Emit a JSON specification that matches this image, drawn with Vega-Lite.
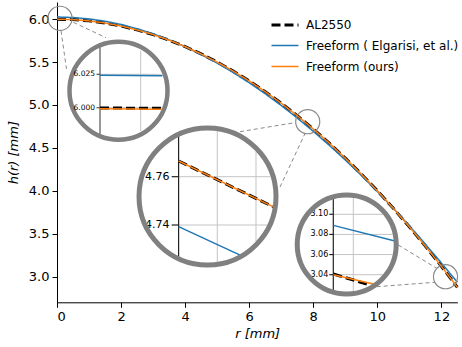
{
"$schema":"https://vega.github.io/schema/vega-lite/v6.json",
"width":400.4,"height":300.3,
"autosize":{"type":"none"},
"padding":{"left":57,"top":2,"right":4.6,"bottom":44.7},
"background":"white",
"config":{
 "font":"DejaVu Sans",
 "view":{"stroke":null},
 "axis":{"grid":false,"domainColor":"#000","domainWidth":1,"tickColor":"#000","tickWidth":1,"tickSize":5,"labelColor":"#000","labelFontSize":13,"labelPadding":3,"titleColor":"#000","titleFontSize":13,"titleFontWeight":"normal","titleFontStyle":"italic"},
 "legend":{"orient":"none","legendX":213,"legendY":8,"symbolType":"stroke","symbolSize":729,"labelFontSize":12,"labelOffset":6,"labelLimit":400,"rowPadding":-6,"padding":0,"labelColor":"#000"}
},
"datasets":{
 "curves":[
  {"s":"AL2550","r":0,"h":6.0},{"s":"AL2550","r":0.5,"h":5.995},{"s":"AL2550","r":1,"h":5.98},{"s":"AL2550","r":1.5,"h":5.955},{"s":"AL2550","r":2,"h":5.92},{"s":"AL2550","r":2.5,"h":5.875},{"s":"AL2550","r":3,"h":5.82},{"s":"AL2550","r":3.5,"h":5.755},{"s":"AL2550","r":4,"h":5.68},{"s":"AL2550","r":4.5,"h":5.595},{"s":"AL2550","r":5,"h":5.5},{"s":"AL2550","r":5.5,"h":5.395},{"s":"AL2550","r":6,"h":5.28},{"s":"AL2550","r":6.5,"h":5.155},{"s":"AL2550","r":7,"h":5.02},{"s":"AL2550","r":7.5,"h":4.875},{"s":"AL2550","r":8,"h":4.72},{"s":"AL2550","r":8.5,"h":4.555},{"s":"AL2550","r":9,"h":4.38},{"s":"AL2550","r":9.5,"h":4.195},{"s":"AL2550","r":10,"h":4.0},{"s":"AL2550","r":10.5,"h":3.795},{"s":"AL2550","r":11,"h":3.58},{"s":"AL2550","r":11.5,"h":3.355},{"s":"AL2550","r":12,"h":3.12},{"s":"AL2550","r":12.5,"h":2.875},
  {"s":"Freeform ( Elgarisi, et al.)","r":0,"h":6.025},{"s":"Freeform ( Elgarisi, et al.)","r":0.5,"h":6.019},{"s":"Freeform ( Elgarisi, et al.)","r":1,"h":6.003},{"s":"Freeform ( Elgarisi, et al.)","r":1.5,"h":5.976},{"s":"Freeform ( Elgarisi, et al.)","r":2,"h":5.938},{"s":"Freeform ( Elgarisi, et al.)","r":2.5,"h":5.889},{"s":"Freeform ( Elgarisi, et al.)","r":3,"h":5.829},{"s":"Freeform ( Elgarisi, et al.)","r":3.5,"h":5.759},{"s":"Freeform ( Elgarisi, et al.)","r":4,"h":5.678},{"s":"Freeform ( Elgarisi, et al.)","r":4.5,"h":5.588},{"s":"Freeform ( Elgarisi, et al.)","r":5,"h":5.488},{"s":"Freeform ( Elgarisi, et al.)","r":5.5,"h":5.378},{"s":"Freeform ( Elgarisi, et al.)","r":6,"h":5.259},{"s":"Freeform ( Elgarisi, et al.)","r":6.5,"h":5.131},{"s":"Freeform ( Elgarisi, et al.)","r":7,"h":4.994},{"s":"Freeform ( Elgarisi, et al.)","r":7.5,"h":4.848},{"s":"Freeform ( Elgarisi, et al.)","r":8,"h":4.693},{"s":"Freeform ( Elgarisi, et al.)","r":8.5,"h":4.53},{"s":"Freeform ( Elgarisi, et al.)","r":9,"h":4.359},{"s":"Freeform ( Elgarisi, et al.)","r":9.5,"h":4.18},{"s":"Freeform ( Elgarisi, et al.)","r":10,"h":3.992},{"s":"Freeform ( Elgarisi, et al.)","r":10.5,"h":3.795},{"s":"Freeform ( Elgarisi, et al.)","r":11,"h":3.59},{"s":"Freeform ( Elgarisi, et al.)","r":11.5,"h":3.377},{"s":"Freeform ( Elgarisi, et al.)","r":12,"h":3.158},{"s":"Freeform ( Elgarisi, et al.)","r":12.5,"h":2.933},
  {"s":"Freeform (ours)","r":0,"h":6.0},{"s":"Freeform (ours)","r":0.5,"h":5.995},{"s":"Freeform (ours)","r":1,"h":5.98},{"s":"Freeform (ours)","r":1.5,"h":5.955},{"s":"Freeform (ours)","r":2,"h":5.92},{"s":"Freeform (ours)","r":2.5,"h":5.875},{"s":"Freeform (ours)","r":3,"h":5.82},{"s":"Freeform (ours)","r":3.5,"h":5.755},{"s":"Freeform (ours)","r":4,"h":5.68},{"s":"Freeform (ours)","r":4.5,"h":5.595},{"s":"Freeform (ours)","r":5,"h":5.5},{"s":"Freeform (ours)","r":5.5,"h":5.395},{"s":"Freeform (ours)","r":6,"h":5.28},{"s":"Freeform (ours)","r":6.5,"h":5.155},{"s":"Freeform (ours)","r":7,"h":5.02},{"s":"Freeform (ours)","r":7.5,"h":4.875},{"s":"Freeform (ours)","r":8,"h":4.72},{"s":"Freeform (ours)","r":8.5,"h":4.555},{"s":"Freeform (ours)","r":9,"h":4.38},{"s":"Freeform (ours)","r":9.5,"h":4.195},{"s":"Freeform (ours)","r":10,"h":4.0},{"s":"Freeform (ours)","r":10.5,"h":3.795},{"s":"Freeform (ours)","r":11,"h":3.58},{"s":"Freeform (ours)","r":11.5,"h":3.355},{"s":"Freeform (ours)","r":12,"h":3.12},{"s":"Freeform (ours)","r":12.5,"h":2.875}
 ],
 "links":[
  {"x":0.125,"y":5.8655,"x2":0.2966,"y2":5.4191},
  {"x":0.509,"y":5.9634,"x2":1.53,"y2":5.7839},
  {"x":5.713,"y":4.6884,"x2":7.452,"y2":4.7956},
  {"x":6.962,"y":4.0438,"x2":7.743,"y2":4.6674},
  {"x":10.656,"y":3.3678,"x2":11.855,"y2":3.0963},
  {"x":9.981,"y":2.8818,"x2":11.801,"y2":2.9331}
 ],
 "spots":[{"x":0.0937,"y":6.01},{"x":7.827,"y":4.805},{"x":12.129,"y":2.998}],
 "rings":[{"n":1,"x":1.92,"y":5.165},{"n":2,"x":4.699,"y":3.933},{"n":3,"x":9.0447,"y":3.3737}],
 "grid":[
  {"n":1,"x":0,"x2":0.076,"y":6.025,"y2":6.025},{"n":1,"x":0,"x2":0.0753,"y":6.0,"y2":6.0},{"n":1,"x":0.05,"x2":0.05,"y":5.9825,"y2":6.0428},
  {"n":2,"x":7.825,"x2":7.8844,"y":4.76,"y2":4.76},{"n":2,"x":7.825,"x2":7.8822,"y":4.74,"y2":4.74},{"n":2,"x":7.85,"x2":7.85,"y":4.72477,"y2":4.7788},{"n":2,"x":7.875,"x2":7.875,"y":4.7333,"y2":4.7703},
  {"n":3,"x":12.15,"x2":12.1747,"y":3.04,"y2":3.04},{"n":3,"x":12.15,"x2":12.17965,"y":3.06,"y2":3.06},{"n":3,"x":12.15,"x2":12.17965,"y":3.08,"y2":3.08},{"n":3,"x":12.15,"x2":12.1747,"y":3.1,"y2":3.1},{"n":3,"x":12.16,"x2":12.16,"y":3.0238,"y2":3.1162}
 ],
 "frame":[
  {"n":1,"x":0,"x2":0,"y":5.9803,"y2":6.0458},{"n":1,"x":-0.0043,"x2":0,"y":6.025,"y2":6.025},{"n":1,"x":-0.0043,"x2":0,"y":6.0,"y2":6.0},
  {"n":2,"x":7.825,"x2":7.825,"y":4.7263,"y2":4.7773},{"n":2,"x":7.8205,"x2":7.825,"y":4.76,"y2":4.76},{"n":2,"x":7.8205,"x2":7.825,"y":4.74,"y2":4.74},
  {"n":3,"x":12.15,"x2":12.15,"y":3.0233,"y2":3.1152},{"n":3,"x":12.148,"x2":12.15,"y":3.04,"y2":3.04},{"n":3,"x":12.148,"x2":12.15,"y":3.06,"y2":3.06},{"n":3,"x":12.148,"x2":12.15,"y":3.08,"y2":3.08},{"n":3,"x":12.148,"x2":12.15,"y":3.1,"y2":3.1}
 ],
 "labels":[
  {"n":1,"y":6.025,"label":"6.025"},{"n":1,"y":6.0,"label":"6.000"},
  {"n":2,"y":4.76,"label":"4.76"},{"n":2,"y":4.74,"label":"4.74"},
  {"n":3,"y":3.1,"label":"3.10"},{"n":3,"y":3.08,"label":"3.08"},{"n":3,"y":3.06,"label":"3.06"},{"n":3,"y":3.04,"label":"3.04"}
 ],
 "segs":[
  {"n":1,"s":"al","x":0,"x2":0.0753,"y":5.9998,"y2":5.9995},{"n":1,"s":"el","x":0,"x2":0.0767,"y":6.0243,"y2":6.0239},{"n":1,"s":"ou","x":0,"x2":0.0753,"y":5.9992,"y2":5.9989},
  {"n":2,"s":"al","x":7.825,"x2":7.8873,"y":4.7665,"y2":4.7472},{"n":2,"s":"el","x":7.825,"x2":7.8658,"y":4.7393,"y2":4.7272},{"n":2,"s":"ou","x":7.825,"x2":7.8873,"y":4.7665,"y2":4.7472},
  {"n":3,"s":"al","x":12.15,"x2":12.1683,"y":3.0407,"y2":3.0298},{"n":3,"s":"el","x":12.15,"x2":12.18085,"y":3.089,"y2":3.0735},{"n":3,"s":"ou","x":12.15,"x2":12.1705,"y":3.04,"y2":3.0305}
 ]
},
"layer":[
 {"layer":[
  {"data":{"name":"curves"},"mark":{"type":"line","strokeCap":"butt","strokeJoin":"round"},
   "encoding":{
    "x":{"field":"r","type":"quantitative","scale":{"domain":[0,12.5],"nice":false,"zero":false},"axis":{"values":[0,2,4,6,8,10,12],"title":"r [mm]","titlePadding":4}},
    "y":{"field":"h","type":"quantitative","scale":{"domain":[2.7,6.2],"nice":false,"zero":false},"axis":{"values":[3,3.5,4,4.5,5,5.5,6],"format":".1f","title":"h(r) [mm]","titlePadding":8}},
    "color":{"field":"s","type":"nominal","scale":{"domain":["AL2550","Freeform ( Elgarisi, et al.)","Freeform (ours)"],"range":["#000000","#1f77b4","#ff7f0e"]},"legend":{"title":null}},
    "strokeDash":{"field":"s","type":"nominal","scale":{"domain":["AL2550","Freeform ( Elgarisi, et al.)","Freeform (ours)"],"range":[[9,4],[1,0],[1,0]]},"legend":{"title":null}},
    "strokeWidth":{"field":"s","type":"nominal","scale":{"type":"ordinal","domain":["AL2550","Freeform ( Elgarisi, et al.)","Freeform (ours)"],"range":[3,1.5,1.5]},"legend":{"title":null}}
   }},
  {"data":{"name":"links"},"mark":{"type":"rule","color":"#8a8a8a","strokeWidth":1,"strokeDash":[4,3]},
   "encoding":{"x":{"field":"x","type":"quantitative"},"y":{"field":"y","type":"quantitative"},"x2":{"field":"x2"},"y2":{"field":"y2"}}},
  {"data":{"name":"spots"},"mark":{"type":"point","shape":"circle","size":580,"filled":false,"stroke":"#8a8a8a","strokeWidth":1.2,"opacity":1},
   "encoding":{"x":{"field":"x","type":"quantitative"},"y":{"field":"y","type":"quantitative"}}}
 ]},
 {"layer":[
  {"data":{"name":"grid"},"transform":[{"filter":"datum.n==1"}],"mark":{"type":"rule","color":"#c4c4c4","strokeWidth":1},
   "encoding":{"x":{"field":"x","type":"quantitative","scale":{"domain":[-0.05283,0.43907],"nice":false,"zero":false},"axis":null},"y":{"field":"y","type":"quantitative","scale":{"domain":[5.85434,6.07912],"nice":false,"zero":false},"axis":null},"x2":{"field":"x2"},"y2":{"field":"y2"}}},
  {"data":{"name":"frame"},"transform":[{"filter":"datum.n==1"}],"mark":{"type":"rule","color":"#555555","strokeWidth":1.2},
   "encoding":{"x":{"field":"x","type":"quantitative","scale":{"domain":[-0.05283,0.43907],"nice":false,"zero":false},"axis":null},"y":{"field":"y","type":"quantitative","scale":{"domain":[5.85434,6.07912],"nice":false,"zero":false},"axis":null},"x2":{"field":"x2"},"y2":{"field":"y2"}}},
  {"data":{"name":"segs"},"transform":[{"filter":"datum.n==1 && datum.s=='al'"}],"mark":{"type":"rule","color":"#000","strokeWidth":3,"strokeDash":[9,4]},
   "encoding":{"x":{"field":"x","type":"quantitative","scale":{"domain":[-0.05283,0.43907],"nice":false,"zero":false},"axis":null},"y":{"field":"y","type":"quantitative","scale":{"domain":[5.85434,6.07912],"nice":false,"zero":false},"axis":null},"x2":{"field":"x2"},"y2":{"field":"y2"}}},
  {"data":{"name":"segs"},"transform":[{"filter":"datum.n==1 && datum.s=='el'"}],"mark":{"type":"rule","color":"#1f77b4","strokeWidth":1.5},
   "encoding":{"x":{"field":"x","type":"quantitative","scale":{"domain":[-0.05283,0.43907],"nice":false,"zero":false},"axis":null},"y":{"field":"y","type":"quantitative","scale":{"domain":[5.85434,6.07912],"nice":false,"zero":false},"axis":null},"x2":{"field":"x2"},"y2":{"field":"y2"}}},
  {"data":{"name":"segs"},"transform":[{"filter":"datum.n==1 && datum.s=='ou'"}],"mark":{"type":"rule","color":"#ff7f0e","strokeWidth":1.5},
   "encoding":{"x":{"field":"x","type":"quantitative","scale":{"domain":[-0.05283,0.43907],"nice":false,"zero":false},"axis":null},"y":{"field":"y","type":"quantitative","scale":{"domain":[5.85434,6.07912],"nice":false,"zero":false},"axis":null},"x2":{"field":"x2"},"y2":{"field":"y2"}}}
 ]},
 {"layer":[
  {"data":{"name":"grid"},"transform":[{"filter":"datum.n==2"}],"mark":{"type":"rule","color":"#c4c4c4","strokeWidth":1},
   "encoding":{"x":{"field":"x","type":"quantitative","scale":{"domain":[7.74645,8.00511],"nice":false,"zero":false},"axis":null},"y":{"field":"y","type":"quantitative","scale":{"domain":[4.70799,4.83234],"nice":false,"zero":false},"axis":null},"x2":{"field":"x2"},"y2":{"field":"y2"}}},
  {"data":{"name":"frame"},"transform":[{"filter":"datum.n==2"}],"mark":{"type":"rule","color":"#222222","strokeWidth":1.2},
   "encoding":{"x":{"field":"x","type":"quantitative","scale":{"domain":[7.74645,8.00511],"nice":false,"zero":false},"axis":null},"y":{"field":"y","type":"quantitative","scale":{"domain":[4.70799,4.83234],"nice":false,"zero":false},"axis":null},"x2":{"field":"x2"},"y2":{"field":"y2"}}},
  {"data":{"name":"labels"},"transform":[{"filter":"datum.n==2"}],"mark":{"type":"text","align":"right","baseline":"middle","dx":-9,"fontSize":11,"color":"#000"},
   "encoding":{"x":{"datum":7.825,"type":"quantitative","scale":{"domain":[7.74645,8.00511],"nice":false,"zero":false},"axis":null},"y":{"field":"y","type":"quantitative","scale":{"domain":[4.70799,4.83234],"nice":false,"zero":false},"axis":null},"text":{"field":"label"}}},
  {"data":{"name":"segs"},"transform":[{"filter":"datum.n==2 && datum.s=='al'"}],"mark":{"type":"rule","color":"#000","strokeWidth":3,"strokeDash":[9,4]},
   "encoding":{"x":{"field":"x","type":"quantitative","scale":{"domain":[7.74645,8.00511],"nice":false,"zero":false},"axis":null},"y":{"field":"y","type":"quantitative","scale":{"domain":[4.70799,4.83234],"nice":false,"zero":false},"axis":null},"x2":{"field":"x2"},"y2":{"field":"y2"}}},
  {"data":{"name":"segs"},"transform":[{"filter":"datum.n==2 && datum.s=='el'"}],"mark":{"type":"rule","color":"#1f77b4","strokeWidth":1.5},
   "encoding":{"x":{"field":"x","type":"quantitative","scale":{"domain":[7.74645,8.00511],"nice":false,"zero":false},"axis":null},"y":{"field":"y","type":"quantitative","scale":{"domain":[4.70799,4.83234],"nice":false,"zero":false},"axis":null},"x2":{"field":"x2"},"y2":{"field":"y2"}}},
  {"data":{"name":"segs"},"transform":[{"filter":"datum.n==2 && datum.s=='ou'"}],"mark":{"type":"rule","color":"#ff7f0e","strokeWidth":1.5},
   "encoding":{"x":{"field":"x","type":"quantitative","scale":{"domain":[7.74645,8.00511],"nice":false,"zero":false},"axis":null},"y":{"field":"y","type":"quantitative","scale":{"domain":[4.70799,4.83234],"nice":false,"zero":false},"axis":null},"x2":{"field":"x2"},"y2":{"field":"y2"}}}
 ]},
 {"layer":[
  {"data":{"name":"grid"},"transform":[{"filter":"datum.n==3"}],"mark":{"type":"rule","color":"#c4c4c4","strokeWidth":1},
   "encoding":{"x":{"field":"x","type":"quantitative","scale":{"domain":[12.01185,12.21205],"nice":false,"zero":false},"axis":null},"y":{"field":"y","type":"quantitative","scale":{"domain":[3.01258,3.3109],"nice":false,"zero":false},"axis":null},"x2":{"field":"x2"},"y2":{"field":"y2"}}},
  {"data":{"name":"frame"},"transform":[{"filter":"datum.n==3"}],"mark":{"type":"rule","color":"#222222","strokeWidth":1.2},
   "encoding":{"x":{"field":"x","type":"quantitative","scale":{"domain":[12.01185,12.21205],"nice":false,"zero":false},"axis":null},"y":{"field":"y","type":"quantitative","scale":{"domain":[3.01258,3.3109],"nice":false,"zero":false},"axis":null},"x2":{"field":"x2"},"y2":{"field":"y2"}}},
  {"data":{"name":"labels"},"transform":[{"filter":"datum.n==3"}],"mark":{"type":"text","align":"right","baseline":"middle","dx":-5,"fontSize":8,"color":"#000"},
   "encoding":{"x":{"datum":12.15,"type":"quantitative","scale":{"domain":[12.01185,12.21205],"nice":false,"zero":false},"axis":null},"y":{"field":"y","type":"quantitative","scale":{"domain":[3.01258,3.3109],"nice":false,"zero":false},"axis":null},"text":{"field":"label"}}},
  {"data":{"name":"segs"},"transform":[{"filter":"datum.n==3 && datum.s=='al'"}],"mark":{"type":"rule","color":"#000","strokeWidth":3,"strokeDash":[9,4]},
   "encoding":{"x":{"field":"x","type":"quantitative","scale":{"domain":[12.01185,12.21205],"nice":false,"zero":false},"axis":null},"y":{"field":"y","type":"quantitative","scale":{"domain":[3.01258,3.3109],"nice":false,"zero":false},"axis":null},"x2":{"field":"x2"},"y2":{"field":"y2"}}},
  {"data":{"name":"segs"},"transform":[{"filter":"datum.n==3 && datum.s=='el'"}],"mark":{"type":"rule","color":"#1f77b4","strokeWidth":1.5},
   "encoding":{"x":{"field":"x","type":"quantitative","scale":{"domain":[12.01185,12.21205],"nice":false,"zero":false},"axis":null},"y":{"field":"y","type":"quantitative","scale":{"domain":[3.01258,3.3109],"nice":false,"zero":false},"axis":null},"x2":{"field":"x2"},"y2":{"field":"y2"}}},
  {"data":{"name":"segs"},"transform":[{"filter":"datum.n==3 && datum.s=='ou'"}],"mark":{"type":"rule","color":"#ff7f0e","strokeWidth":1.5},
   "encoding":{"x":{"field":"x","type":"quantitative","scale":{"domain":[12.01185,12.21205],"nice":false,"zero":false},"axis":null},"y":{"field":"y","type":"quantitative","scale":{"domain":[3.01258,3.3109],"nice":false,"zero":false},"axis":null},"x2":{"field":"x2"},"y2":{"field":"y2"}}}
 ]},
 {"layer":[
  {"data":{"name":"rings"},"transform":[{"filter":"datum.n==1"}],"mark":{"type":"point","shape":"circle","size":9604,"filled":false,"stroke":"#808080","strokeWidth":4.5,"opacity":1},
   "encoding":{"x":{"field":"x","type":"quantitative","scale":{"domain":[0,12.5],"nice":false,"zero":false},"axis":null},"y":{"field":"y","type":"quantitative","scale":{"domain":[2.7,6.2],"nice":false,"zero":false},"axis":null}}},
  {"data":{"name":"rings"},"transform":[{"filter":"datum.n==2"}],"mark":{"type":"point","shape":"circle","size":18769,"filled":false,"stroke":"#808080","strokeWidth":5,"opacity":1},
   "encoding":{"x":{"field":"x","type":"quantitative","scale":{"domain":[0,12.5],"nice":false,"zero":false},"axis":null},"y":{"field":"y","type":"quantitative","scale":{"domain":[2.7,6.2],"nice":false,"zero":false},"axis":null}}},
  {"data":{"name":"rings"},"transform":[{"filter":"datum.n==3"}],"mark":{"type":"point","shape":"circle","size":9801,"filled":false,"stroke":"#808080","strokeWidth":5,"opacity":1},
   "encoding":{"x":{"field":"x","type":"quantitative","scale":{"domain":[0,12.5],"nice":false,"zero":false},"axis":null},"y":{"field":"y","type":"quantitative","scale":{"domain":[2.7,6.2],"nice":false,"zero":false},"axis":null}}}
 ]},
 {"data":{"name":"labels"},"transform":[{"filter":"datum.n==1"}],"mark":{"type":"text","align":"right","baseline":"middle","dx":-5,"fontSize":7.5,"color":"#000"},
  "encoding":{"x":{"datum":0,"type":"quantitative","scale":{"domain":[-0.05283,0.43907],"nice":false,"zero":false},"axis":null},"y":{"field":"y","type":"quantitative","scale":{"domain":[5.85434,6.07912],"nice":false,"zero":false},"axis":null},"text":{"field":"label"}}}
],
"resolve":{"scale":{"x":"independent","y":"independent"}}
}
